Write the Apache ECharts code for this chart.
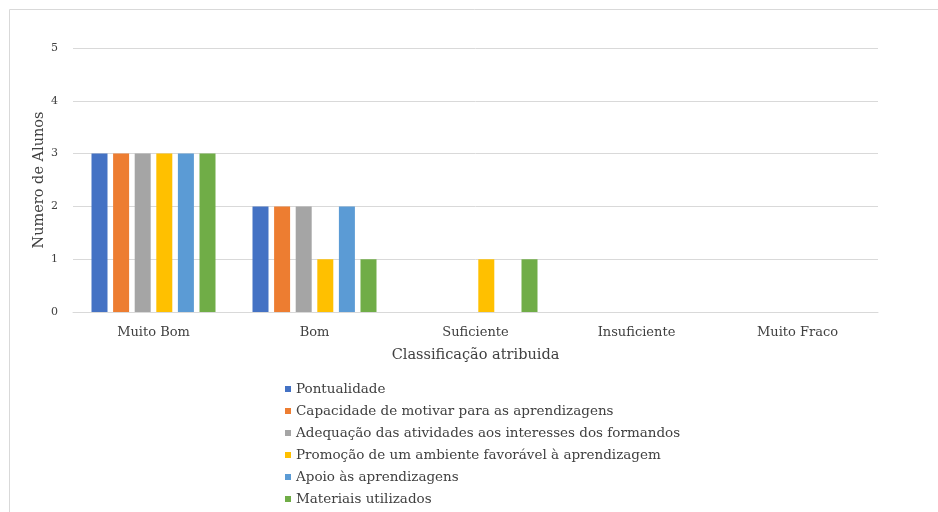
<!DOCTYPE html>
<html>
<head>
<meta charset="utf-8">
<script src="https://cdn.jsdelivr.net/npm/echarts@6/dist/echarts.min.js"></script>
<style>html,body{margin:0;padding:0;background:#fff}#c{width:938px;height:512px}</style>
</head>
<body>
<div id="c"></div>
<script>
const categories = ['Muito Bom', 'Bom', 'Suficiente', 'Insuficiente', 'Muito Fraco'];
const seriesNames = [
  'Pontualidade',
  'Capacidade de motivar para as aprendizagens',
  'Adequação das atividades aos interesses dos formandos',
  'Promoção de um ambiente favorável à aprendizagem',
  'Apoio às aprendizagens',
  'Materiais utilizados'
];
const pontualidade = [3, 2, 0, 0, 0];
const capacidade = [3, 2, 0, 0, 0];
const adequacao = [3, 2, 0, 0, 0];
const promocao = [3, 1, 1, 0, 0];
const apoio = [3, 2, 0, 0, 0];
const materiais = [3, 1, 1, 0, 0];
const yTicks = [0, 1, 2, 3, 4, 5];

const colors = ['#4472C4', '#ED7D31', '#A5A5A5', '#FFC000', '#5B9BD5', '#70AD47'];
const allData = [pontualidade, capacidade, adequacao, promocao, apoio, materiais];
const font = '"DejaVu Serif", "Liberation Serif", serif';

const chart = echarts.init(document.getElementById('c'), null, {renderer: 'canvas'});
chart.setOption({
  animation: false,
  color: colors,
  graphic: [{
    type: 'rect', left: 7, top: 7, silent: true,
    shape: {width: 960, height: 540},
    style: {fill: 'none', stroke: '#d9d9d9', lineWidth: 1}
  }],
  grid: {left: 73, right: 60, top: 48, bottom: 200, containLabel: false},
  legend: {
    orient: 'vertical', left: 285, top: 381, padding: 0,
    icon: 'rect', itemWidth: 6, itemHeight: 6, itemGap: 6,
    textStyle: {fontFamily: font, fontSize: 13.5, color: '#404040', lineHeight: 16},
    data: seriesNames
  },
  xAxis: {
    type: 'category', data: categories,
    name: 'Classificação atribuida', nameLocation: 'middle', nameGap: 36,
    nameTextStyle: {fontFamily: font, fontSize: 14.5, color: '#404040'},
    axisLine: {lineStyle: {color: '#d9d9d9'}},
    axisTick: {show: false},
    axisLabel: {fontFamily: font, fontSize: 13, color: '#404040', margin: 14}
  },
  yAxis: {
    type: 'value', min: 0, max: 5, interval: 1,
    name: 'Numero de Alunos', nameLocation: 'middle', nameGap: 26,
    nameMoveOverlap: false,
    nameTextStyle: {fontFamily: font, fontSize: 14.5, color: '#404040'},
    axisLine: {show: false}, axisTick: {show: false},
    splitLine: {lineStyle: {color: '#d9d9d9'}},
    axisLabel: {fontFamily: font, fontSize: 11, color: '#404040', margin: 15,
      formatter: v => yTicks.includes(v) ? String(v) : ''}
  },
  series: seriesNames.map((n, i) => ({
    name: n, type: 'bar', data: allData[i],
    barWidth: 16, barGap: '35%'
  }))
});
</script>
</body>
</html>
